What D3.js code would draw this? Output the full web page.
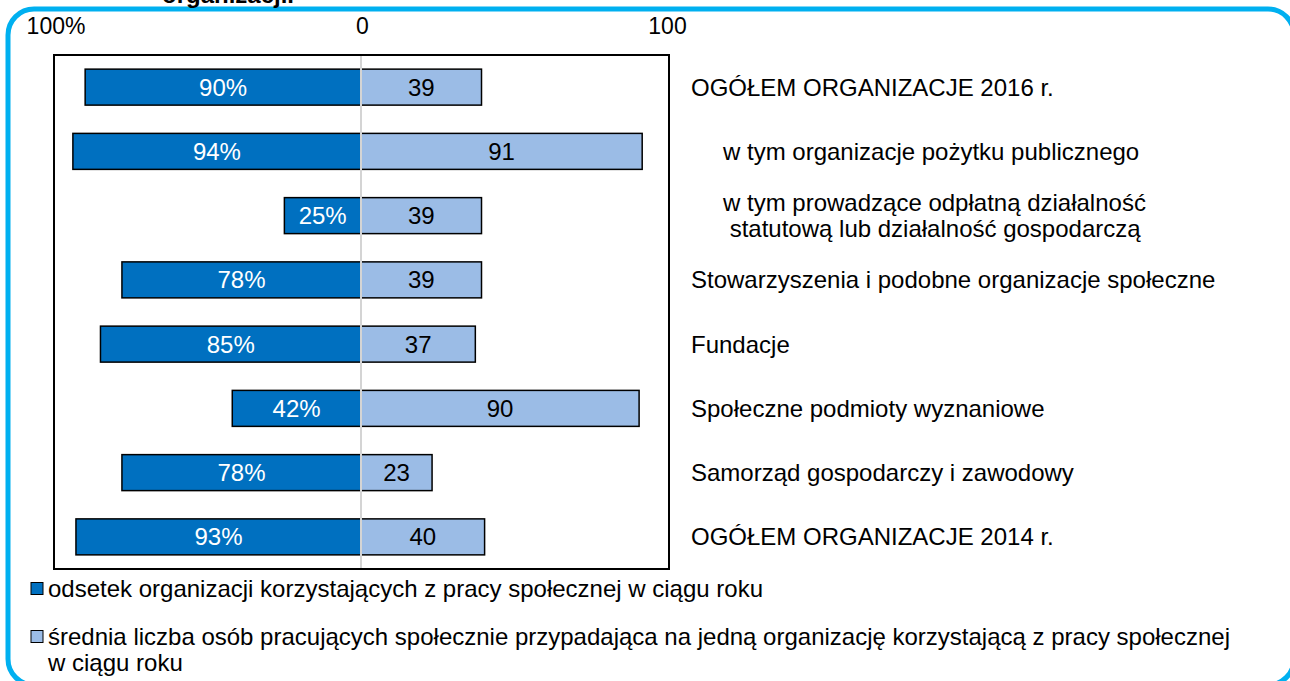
<!DOCTYPE html>
<html>
<head>
<meta charset="utf-8">
<script src="https://cdn.jsdelivr.net/npm/d3@7"></script>
<style>
  body { margin: 0; background: #fff; }
  text { font-family: "Liberation Sans", Arial, sans-serif; }
</style>
</head>
<body>
<div id="chart"></div>
<script>
// Dane z wykresu
var kategorie = [
    "OGÓŁEM ORGANIZACJE 2016 r.",
    "w tym organizacje pożytku publicznego",
    "w tym prowadzące odpłatną działalność\n statutową lub działalność gospodarczą",
    "Stowarzyszenia i podobne organizacje społeczne",
    "Fundacje",
    "Społeczne podmioty wyznaniowe",
    "Samorząd gospodarczy i zawodowy",
    "OGÓŁEM ORGANIZACJE 2014 r."
];
var odsetek = [90, 94, 25, 78, 85, 42, 78, 93];
var srednia = [39, 91, 39, 39, 37, 90, 23, 40];
var ticki = [-100, 0, 100];
var legenda = [
    "odsetek organizacji korzystających z pracy społecznej w ciągu roku",
    "średnia liczba osób pracujących społecznie przypadająca na jedną organizację korzystającą z pracy społecznej\nw ciągu roku"
];

var W = 1290, H = 681;
var ciemny = "#0070c0", jasny = "#9bbce6";

var svg = d3.select("#chart").append("svg")
    .attr("width", W)
    .attr("height", H);

// Ramka zewnętrzna (niebieska, zaokrąglona)
svg.append("rect")
    .attr("x", 8).attr("y", 9)
    .attr("width", 1286).attr("height", 676)
    .attr("rx", 26)
    .attr("fill", "white")
    .attr("stroke", "#00b0f0")
    .attr("stroke-width", 5);

// Ucięty tytuł
svg.append("text")
    .attr("x", 162).attr("y", 3)
    .style("font-size", "24px")
    .style("font-weight", "bold")
    .text("organizacji.");

// Obszar wykresu
var plot = {left: 54, right: 669, top: 55, bottom: 569};

var x = d3.scaleLinear()
    .domain([-100, 0, 100])
    .range([54.5, 361, 670]);

var y = d3.scaleBand()
    .domain(d3.range(kategorie.length))
    .range([plot.top, plot.bottom])
    .paddingInner(0.44)
    .paddingOuter(0.22);

// Ramka obszaru wykresu
svg.append("rect")
    .attr("x", plot.left).attr("y", plot.top)
    .attr("width", plot.right - plot.left)
    .attr("height", plot.bottom - plot.top)
    .attr("fill", "none")
    .attr("stroke", "black")
    .attr("stroke-width", 2);

// Oś górna
var xAxis = d3.axisTop(x)
    .tickValues(ticki)
    .tickSize(0)
    .tickFormat(function(d) { return d < 0 ? "100%" : Math.abs(d); });
var xAxisG = svg.append("g")
    .attr("transform", "translate(0, 34)")
    .call(xAxis);
xAxisG.select(".domain").remove();
xAxisG.selectAll("text")
    .attr("y", 0).attr("dy", 0)
    .attr("dx", function(d) { return d > 0 ? -3 : 1; })
    .style("font-family", "'Liberation Sans', Arial, sans-serif")
    .style("font-size", "23px")
    .attr("fill", "black");

// Słupki - odsetek (w lewo)
svg.selectAll(".bar-l").data(odsetek)
    .enter().append("rect")
    .attr("class", "bar-l")
    .attr("x", function(d) { return x(-d); })
    .attr("y", function(d, i) { return y(i); })
    .attr("width", function(d) { return x(0) - x(-d); })
    .attr("height", y.bandwidth())
    .attr("fill", ciemny)
    .attr("stroke", "black")
    .attr("stroke-width", 1.5);

// Słupki - średnia (w prawo)
svg.selectAll(".bar-r").data(srednia)
    .enter().append("rect")
    .attr("class", "bar-r")
    .attr("x", x(0))
    .attr("y", function(d, i) { return y(i); })
    .attr("width", function(d) { return x(d) - x(0); })
    .attr("height", y.bandwidth())
    .attr("fill", jasny)
    .attr("stroke", "black")
    .attr("stroke-width", 1.5);

// Linia zera
svg.append("line")
    .attr("x1", x(0)).attr("x2", x(0))
    .attr("y1", plot.top + 1).attr("y2", plot.bottom - 1)
    .attr("stroke", "#d4d4d4")
    .attr("stroke-width", 2);

// Etykiety wartości
svg.selectAll(".lab-l").data(odsetek)
    .enter().append("text")
    .attr("class", "lab-l")
    .attr("x", function(d) { return (x(-d) + x(0)) / 2; })
    .attr("y", function(d, i) { return y(i) + y.bandwidth() / 2; })
    .attr("dy", "0.35em")
    .attr("text-anchor", "middle")
    .attr("fill", "white")
    .style("font-size", "24px")
    .text(function(d) { return d + "%"; });

svg.selectAll(".lab-r").data(srednia)
    .enter().append("text")
    .attr("class", "lab-r")
    .attr("x", function(d) { return (x(d) + x(0)) / 2; })
    .attr("y", function(d, i) { return y(i) + y.bandwidth() / 2; })
    .attr("dy", "0.35em")
    .attr("text-anchor", "middle")
    .attr("fill", "black")
    .style("font-size", "24px")
    .text(function(d) { return d; });

// Etykiety kategorii
kategorie.forEach(function(k, i) {
    var linie = k.split("\n");
    var lx = k.indexOf("w tym") === 0 ? 723 : 691;
    var t = svg.append("text")
        .attr("x", lx)
        .attr("y", y(i) + y.bandwidth() / 2 - (linie.length - 1) * 13)
        .style("font-size", "24px")
        .style("white-space", "pre");
    linie.forEach(function(l, j) {
        t.append("tspan")
            .attr("x", lx)
            .attr("dy", j === 0 ? "0.35em" : 26)
            .text(l);
    });
});

// Legenda
var legY = [589, 637];
legenda.forEach(function(l, i) {
    svg.append("rect")
        .attr("x", 31).attr("y", legY[i] - 6.5)
        .attr("width", 12).attr("height", 12)
        .attr("fill", i === 0 ? ciemny : jasny)
        .attr("stroke", "black")
        .attr("stroke-width", 1);
    var t = svg.append("text")
        .attr("x", 48).attr("y", legY[i])
        .style("font-size", "24px");
    l.split("\n").forEach(function(s, j) {
        t.append("tspan")
            .attr("x", 48)
            .attr("dy", j === 0 ? "0.35em" : 26)
            .text(s);
    });
});
</script>
</body>
</html>
